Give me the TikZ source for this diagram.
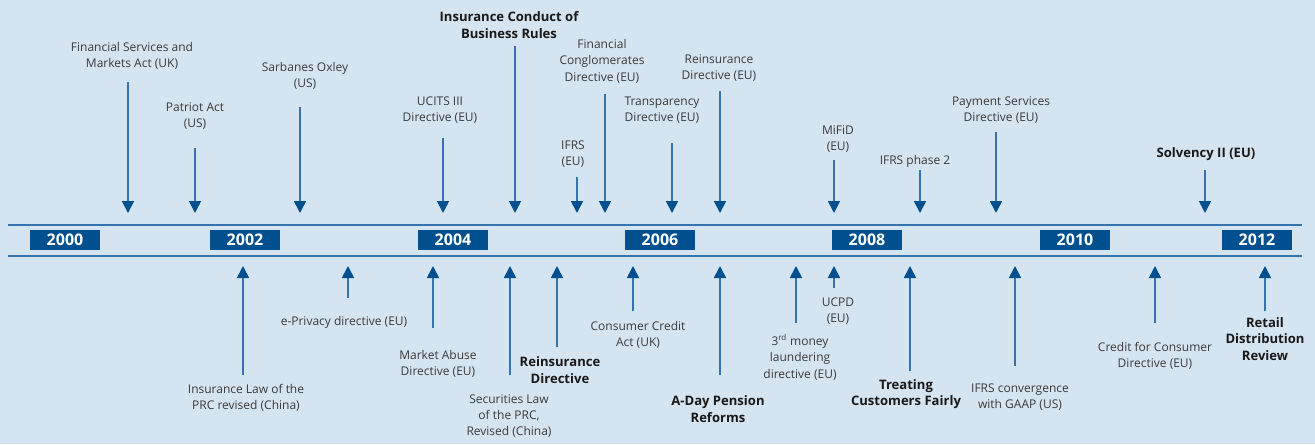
\documentclass[tikz,border=0pt]{standalone}
\usepackage{fontspec}
\setmainfont{Open Sans}
\usetikzlibrary{arrows.meta,positioning}
\definecolor{bgblue}{HTML}{D5E4F1}
\definecolor{yearblue}{HTML}{00508F}
\definecolor{lineblue}{HTML}{3672AD}
\definecolor{txtgray}{HTML}{3A3A3A}
\tikzset{%
	year/.style     = {fill=yearblue, text=white, font=\bfseries\fontsize{12}{14}\selectfont, minimum width=52.5pt, minimum height=15pt, inner sep=0pt},
	event/.style    = {align=center, text=txtgray, font=\fontsize{9}{12.3}\selectfont, inner sep=0pt},
	keyevent/.style = {event, text=black!90, font=\bfseries\fontsize{9.8}{12.2}\selectfont},
	evarrow/.style  = {draw=lineblue, line width=1.3pt, -{Triangle[width=9pt,length=9pt,color=yearblue]}},
	axis/.style     = {draw=lineblue, line width=1.1pt},
}
\begin{document}
\begin{tikzpicture}[x=0.75pt,y=-0.75pt]
	
	\fill[bgblue] (0,0) rectangle (1315,444);
	\useasboundingbox (0,0) rectangle (1315,444);
	
	% time line
	\coordinate (top-l) at (8,225); \coordinate (top-r) at (1302,225);
	\coordinate (bot-l) at (8,256); \coordinate (bot-r) at (1302,256);
	\draw[axis] (top-l) -- (top-r);
	\draw[axis] (bot-l) -- (bot-r);
	\node[year] (y2000) at (65,239.5) {2000};
	\node[year] (y2002) at (245,239.5) {2002};
	\node[year] (y2004) at (453,239.5) {2004};
	\node[year] (y2006) at (660,239.5) {2006};
	\node[year] (y2008) at (867,239.5) {2008};
	\node[year] (y2010) at (1075,239.5) {2010};
	\node[year] (y2012) at (1257,239.5) {2012};
	
	% events above the line
	\node[event] (fsma) at (132,56) {Financial Services and\\Markets Act (UK)};
	\coordinate (fsma-a) at (128,82); \coordinate (fsma-b) at (128,213);
	\draw[evarrow] (fsma-a) -- (fsma-b);
	
	\node[event] (patriot) at (195,116) {Patriot Act\\(US)};
	\coordinate (patriot-a) at (195,148); \coordinate (patriot-b) at (195,213);
	\draw[evarrow] (patriot-a) -- (patriot-b);
	
	\node[event] (sox) at (305,76) {Sarbanes Oxley\\(US)};
	\coordinate (sox-a) at (300,107); \coordinate (sox-b) at (300,213);
	\draw[evarrow] (sox-a) -- (sox-b);
	
	\node[event] (ucits) at (440,110) {UCITS III\\Directive (EU)};
	\coordinate (ucits-a) at (443,138); \coordinate (ucits-b) at (443,213);
	\draw[evarrow] (ucits-a) -- (ucits-b);
	
	\node[keyevent] (icob) at (509,25) {Insurance Conduct of\\Business Rules};
	\coordinate (icob-a) at (515,46); \coordinate (icob-b) at (515,213);
	\draw[evarrow] (icob-a) -- (icob-b);
	
	\node[event] (ifrs) at (573,154) {IFRS\\(EU)};
	\coordinate (ifrs-a) at (577,177); \coordinate (ifrs-b) at (577,213);
	\draw[evarrow] (ifrs-a) -- (ifrs-b);
	
	\node[event] (fincon) at (602,61) {Financial\\Conglomerates\\Directive (EU)};
	\coordinate (fincon-a) at (605,94); \coordinate (fincon-b) at (605,213);
	\draw[evarrow] (fincon-a) -- (fincon-b);
	
	\node[event] (transp) at (662,110) {Transparency\\Directive (EU)};
	\coordinate (transp-a) at (672,143); \coordinate (transp-b) at (672,213);
	\draw[evarrow] (transp-a) -- (transp-b);
	
	\node[event] (reins) at (719,68) {Reinsurance\\Directive (EU)};
	\coordinate (reins-a) at (720,91); \coordinate (reins-b) at (720,213);
	\draw[evarrow] (reins-a) -- (reins-b);
	
	\node[event] (mifid) at (838,139) {MiFiD\\(EU)};
	\coordinate (mifid-a) at (834,160); \coordinate (mifid-b) at (834,213);
	\draw[evarrow] (mifid-a) -- (mifid-b);
	
	\node[event] (ifrstwo) at (915,161) {IFRS phase 2};
	\coordinate (ifrstwo-a) at (920,170); \coordinate (ifrstwo-b) at (920,213);
	\draw[evarrow] (ifrstwo-a) -- (ifrstwo-b);
	
	\node[event] (psd) at (1001,110) {Payment Services\\Directive (EU)};
	\coordinate (psd-a) at (996,132); \coordinate (psd-b) at (996,213);
	\draw[evarrow] (psd-a) -- (psd-b);
	
	\node[keyevent] (solv) at (1206,154) {Solvency II (EU)};
	\coordinate (solv-a) at (1205,170); \coordinate (solv-b) at (1205,213);
	\draw[evarrow] (solv-a) -- (solv-b);
	
	% events below the line
	\node[event] (inslaw) at (246,398) {Insurance Law of the\\PRC revised (China)};
	\coordinate (inslaw-a) at (243,375); \coordinate (inslaw-b) at (243,266);
	\draw[evarrow] (inslaw-a) -- (inslaw-b);
	
	\node[event] (epriv) at (344,322) {e-Privacy directive (EU)};
	\coordinate (epriv-a) at (348,298); \coordinate (epriv-b) at (348,266);
	\draw[evarrow] (epriv-a) -- (epriv-b);
	
	\node[event] (mad) at (438,364) {Market Abuse\\Directive (EU)};
	\coordinate (mad-a) at (433,328); \coordinate (mad-b) at (433,266);
	\draw[evarrow] (mad-a) -- (mad-b);
	
	\node[event] (seclaw) at (509,416) {Securities Law\\of the PRC,\\Revised (China)};
	\coordinate (seclaw-a) at (510,375); \coordinate (seclaw-b) at (510,266);
	\draw[evarrow] (seclaw-a) -- (seclaw-b);
	
	\node[keyevent] (reinsdir) at (560,370) {Reinsurance\\Directive};
	\coordinate (reinsdir-a) at (557,347); \coordinate (reinsdir-b) at (557,266);
	\draw[evarrow] (reinsdir-a) -- (reinsdir-b);
	
	\node[event] (cca) at (638,335) {Consumer Credit\\Act (UK)};
	\coordinate (cca-a) at (633,311); \coordinate (cca-b) at (633,266);
	\draw[evarrow] (cca-a) -- (cca-b);
	
	\node[keyevent] (aday) at (718,409) {A-Day Pension\\Reforms};
	\coordinate (aday-a) at (720,375); \coordinate (aday-b) at (720,266);
	\draw[evarrow] (aday-a) -- (aday-b);
	
	\node[event] (mlaund) at (800,357) {3\textsuperscript{rd} money\\laundering\\directive (EU)};
	\coordinate (mlaund-a) at (796,323); \coordinate (mlaund-b) at (796,266);
	\draw[evarrow] (mlaund-a) -- (mlaund-b);
	
	\node[event] (ucpd) at (838,311) {UCPD\\(EU)};
	\coordinate (ucpd-a) at (834,288); \coordinate (ucpd-b) at (834,266);
	\draw[evarrow] (ucpd-a) -- (ucpd-b);
	
	\node[keyevent] (tcf) at (906,394) {Treating\\Customers Fairly};
	\coordinate (tcf-a) at (910,371); \coordinate (tcf-b) at (910,266);
	\draw[evarrow] (tcf-a) -- (tcf-b);
	
	\node[event] (ifrsconv) at (1020,397) {IFRS convergence\\with GAAP (US)};
	\coordinate (ifrsconv-a) at (1015,366); \coordinate (ifrsconv-b) at (1015,266);
	\draw[evarrow] (ifrsconv-a) -- (ifrsconv-b);
	
	\node[event] (ccd) at (1155,356) {Credit for Consumer\\Directive (EU)};
	\coordinate (ccd-a) at (1155,323); \coordinate (ccd-b) at (1155,266);
	\draw[evarrow] (ccd-a) -- (ccd-b);
	
	\node[keyevent] (rdr) at (1265,339) {Retail\\Distribution\\Review};
	\coordinate (rdr-a) at (1265,311); \coordinate (rdr-b) at (1265,266);
	\draw[evarrow] (rdr-a) -- (rdr-b);
	
\end{tikzpicture}
\end{document}
